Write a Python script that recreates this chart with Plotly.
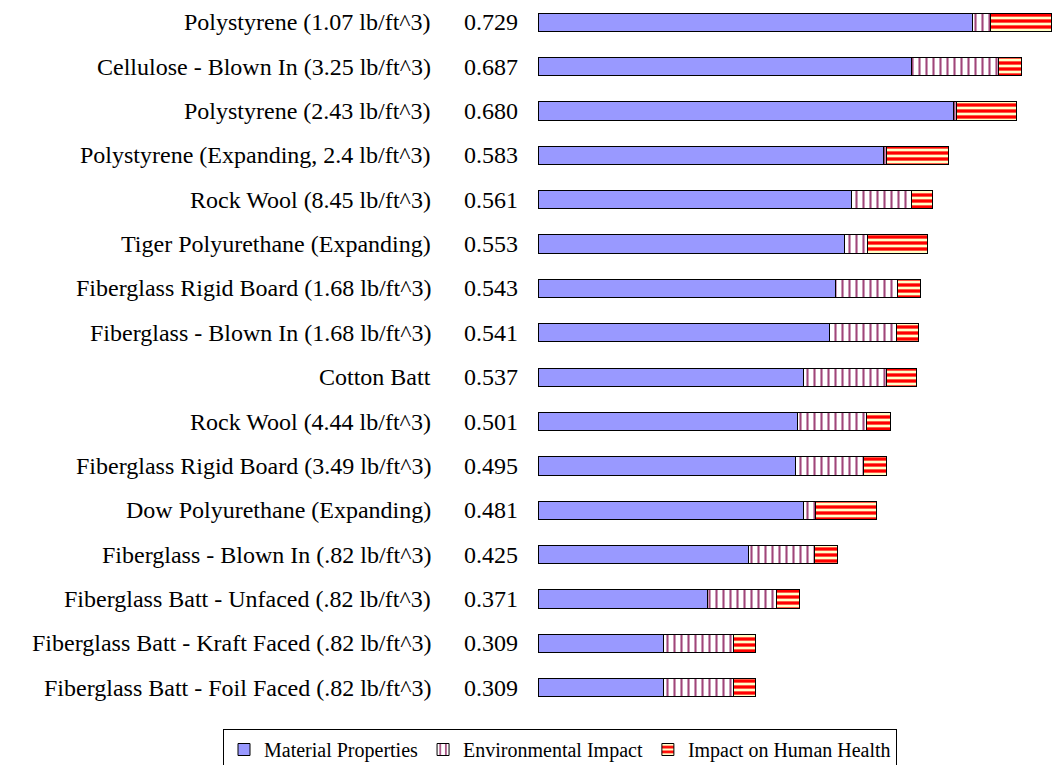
import plotly.graph_objects as go

categories = [
    "Polystyrene (1.07 lb/ft^3)",
    "Cellulose - Blown In (3.25 lb/ft^3)",
    "Polystyrene (2.43 lb/ft^3)",
    "Polystyrene (Expanding, 2.4 lb/ft^3)",
    "Rock Wool (8.45 lb/ft^3)",
    "Tiger Polyurethane (Expanding)",
    "Fiberglass Rigid Board (1.68 lb/ft^3)",
    "Fiberglass - Blown In (1.68 lb/ft^3)",
    "Cotton Batt",
    "Rock Wool (4.44 lb/ft^3)",
    "Fiberglass Rigid Board (3.49 lb/ft^3)",
    "Dow Polyurethane (Expanding)",
    "Fiberglass - Blown In (.82 lb/ft^3)",
    "Fiberglass Batt - Unfaced (.82 lb/ft^3)",
    "Fiberglass Batt - Kraft Faced (.82 lb/ft^3)",
    "Fiberglass Batt - Foil Faced (.82 lb/ft^3)",
]
totals = ["0.729", "0.687", "0.680", "0.583", "0.561", "0.553", "0.543", "0.541",
          "0.537", "0.501", "0.495", "0.481", "0.425", "0.371", "0.309", "0.309"]
material = [0.617, 0.530, 0.590, 0.491, 0.445, 0.435, 0.423, 0.414,
            0.377, 0.368, 0.366, 0.377, 0.299, 0.241, 0.178, 0.178]
environmental = [0.026, 0.124, 0.004, 0.004, 0.085, 0.033, 0.088, 0.095,
                 0.118, 0.099, 0.097, 0.017, 0.094, 0.098, 0.099, 0.099]
health = [0.086, 0.033, 0.086, 0.088, 0.031, 0.085, 0.032, 0.032,
          0.042, 0.034, 0.032, 0.087, 0.032, 0.032, 0.032, 0.032]

W, H = 1060, 765
L, R, T, B = 538, 5, 0, 55
pw = W - L - R
ph = H - T - B
PX_PER_UNIT = 704.0
FONT = "Liberation Serif"

fig = go.Figure()
fig.add_trace(go.Bar(
    y=categories, x=material, orientation="h", name="Material Properties",
    marker=dict(color="#9999FF", line=dict(color="black", width=1)),
))
fig.add_trace(go.Bar(
    y=categories, x=environmental, orientation="h", name="Environmental Impact",
    marker=dict(color="white", line=dict(color="black", width=1),
                pattern=dict(shape="|", fgcolor="#A0467A", bgcolor="white",
                             size=7, solidity=0.3, fillmode="replace")),
))
fig.add_trace(go.Bar(
    y=categories, x=health, orientation="h", name="Impact on Human Health",
    marker=dict(color="#FF0000", line=dict(color="black", width=1),
                pattern=dict(shape="-", fgcolor="#FF0000", bgcolor="#FFFFC8",
                             size=6, solidity=0.55, fillmode="replace")),
))

annotations = []
for c, t in zip(categories, totals):
    annotations.append(dict(x=(433 - L) / pw, xref="paper", y=c, yref="y",
                            text=c, showarrow=False, xanchor="right",
                            font=dict(family=FONT, size=24, color="black")))
    annotations.append(dict(x=(520 - L) / pw, xref="paper", y=c, yref="y",
                            text=t, showarrow=False, xanchor="right",
                            font=dict(family=FONT, size=24, color="black")))

fig.update_layout(
    width=W, height=H,
    margin=dict(l=L, r=R, t=T, b=B, autoexpand=False),
    barmode="stack", bargap=0.59,
    plot_bgcolor="white", paper_bgcolor="white",
    showlegend=True,
    legend=dict(orientation="h", x=(223 - L) / pw, xanchor="left",
                y=-(729 - ph) / ph, yanchor="top",
                bordercolor="black", borderwidth=1, bgcolor="white",
                font=dict(family=FONT, size=20, color="black"),
                itemwidth=30, traceorder="normal"),
    xaxis=dict(range=[0, pw / PX_PER_UNIT], visible=False, showgrid=False),
    yaxis=dict(categoryorder="array", categoryarray=categories,
               range=[len(categories) - 0.5, -0.5], showticklabels=False,
               showgrid=False, zeroline=False, showline=False, ticks=""),
    annotations=annotations,
)

fig.write_html("out.html", config={"displayModeBar": False},
               post_script="document.body.style.margin='0px';")
